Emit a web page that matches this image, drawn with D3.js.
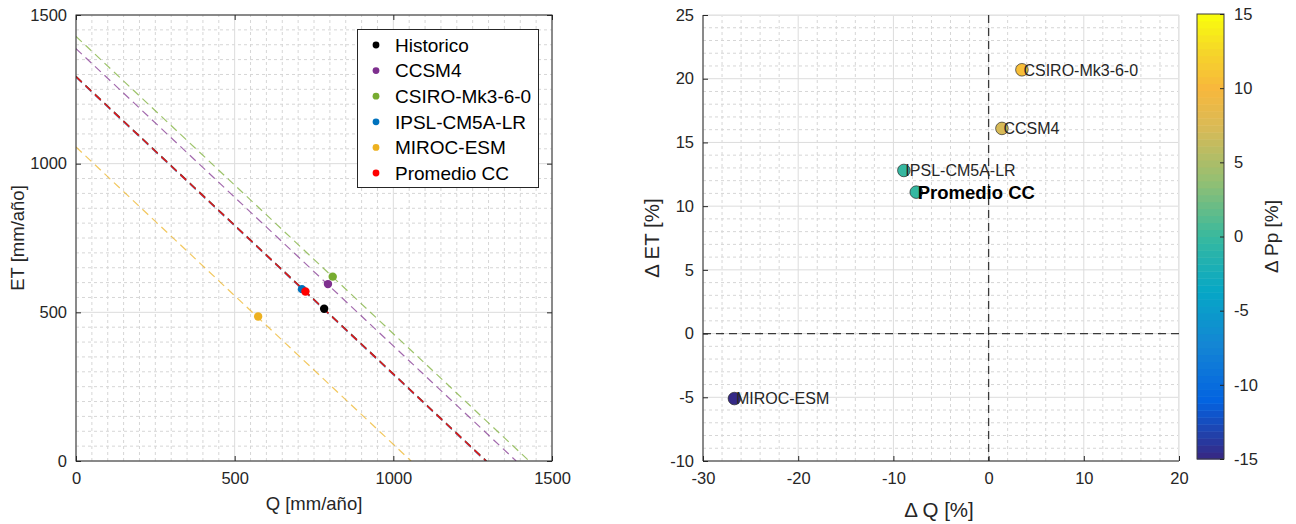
<!DOCTYPE html>
<html><head><meta charset="utf-8">
<script src="https://cdn.jsdelivr.net/npm/d3@7"></script>
<style>
html,body{margin:0;padding:0;background:#fff;}
svg{display:block;font-family:"Liberation Sans",Arial,Helvetica,sans-serif;}
</style></head>
<body>
<svg id="chart" width="1296" height="524"></svg>
<script>
// ---------- Data (left panel) ----------
const series = ["Historico","CCSM4","CSIRO-Mk3-6-0","IPSL-CM5A-LR","MIROC-ESM","Promedio CC"];
const seriesColors = ["#000000","#7e2f8e","#77ac30","#0072bd","#edb120","#ff0000"];
const qValues  = [782, 794, 809, 712, 574, 723];
const etValues = [512, 595, 620, 578, 486, 570];
const ppValues = [1294, 1387, 1428, 1290, 1056, 1292];
const leftTicks = [0, 500, 1000, 1500];

// ---------- Data (right panel) ----------
const deltaLabels = ["CCSM4","CSIRO-Mk3-6-0","IPSL-CM5A-LR","MIROC-ESM","Promedio CC"];
const deltaQ  = [1.4, 3.5, -8.9, -26.7, -7.6];
const deltaET = [16.1, 20.7, 12.8, -5.1, 11.1];
const deltaPp = [7.3, 10.4, -0.3, -18, 0.0];
const rightXTicks = [-30, -20, -10, 0, 10, 20];
const rightYTicks = [-10, -5, 0, 5, 10, 15, 20, 25];
const cbarTicks = [-15, -10, -5, 0, 5, 10, 15];

const svg = d3.select("#chart");
const txt = "#262626";
const fmt = d => String(d);

// parula-like colormap
const parulaStops = [
  [0.000,"#352a87"],[0.125,"#0363e1"],[0.250,"#1485d4"],[0.375,"#06a7c6"],
  [0.500,"#38b99e"],[0.625,"#92bf73"],[0.750,"#d9ba56"],[0.840,"#f8b83c"],
  [0.920,"#f5d52a"],[1.000,"#f9fb0e"]];
const parula = d3.scaleLinear().domain(parulaStops.map(d=>d[0])).range(parulaStops.map(d=>d[1])).interpolate(d3.interpolateRgb).clamp(true);
const cnorm = d3.scaleLinear().domain([-15,15]).range([0,1]).clamp(true);
const colorOf = v => parula(Math.floor(cnorm(v)*63.999)/63);

function grid(g, x, y, xMinor, yMinor, xMajor, yMajor) {
  const [x0,x1] = x.range(), [y0,y1] = y.range();
  g.append("g").selectAll("line").data(xMinor).join("line")
    .attr("x1",d=>x(d)).attr("x2",d=>x(d)).attr("y1",y0).attr("y2",y1)
    .attr("stroke","#d6d6d6").attr("stroke-width",1).attr("stroke-dasharray","3,3");
  g.append("g").selectAll("line").data(yMinor).join("line")
    .attr("x1",x0).attr("x2",x1).attr("y1",d=>y(d)).attr("y2",d=>y(d))
    .attr("stroke","#d6d6d6").attr("stroke-width",1).attr("stroke-dasharray","3,3");
  g.append("g").selectAll("line").data(xMajor).join("line")
    .attr("x1",d=>x(d)).attr("x2",d=>x(d)).attr("y1",y0).attr("y2",y1)
    .attr("stroke","#dcdcdc").attr("stroke-width",1);
  g.append("g").selectAll("line").data(yMajor).join("line")
    .attr("x1",x0).attr("x2",x1).attr("y1",d=>y(d)).attr("y2",d=>y(d))
    .attr("stroke","#dcdcdc").attr("stroke-width",1);
}
function axisStyle(sel){
  sel.selectAll("text").attr("fill",txt).style("font-size","16.5px");
  sel.select(".domain").remove();
  sel.selectAll(".tick line").attr("stroke",txt);
}

// ================= LEFT PANEL =================
const L = {x0:76, x1:552, y0:15, y1:461};
const xL = d3.scaleLinear().domain([0,1500]).range([L.x0,L.x1]);
const yL = d3.scaleLinear().domain([0,1500]).range([L.y1,L.y0]);
const gL = svg.append("g");
grid(gL, xL, yL, d3.range(0,1501,50).filter(d=>d%500), d3.range(0,1501,50).filter(d=>d%500), leftTicks, leftTicks);

svg.append("clipPath").attr("id","clipL").append("rect")
  .attr("x",L.x0).attr("y",L.y0).attr("width",L.x1-L.x0).attr("height",L.y1-L.y0);
const lines = gL.append("g").attr("clip-path","url(#clipL)");
series.forEach((s,i)=>{
  const last = i === series.length-1;
  lines.append("line")
    .attr("x1",xL(0)).attr("y1",yL(ppValues[i]))
    .attr("x2",xL(ppValues[i])).attr("y2",yL(0))
    .attr("stroke",last?"#e01818":seriesColors[i]).attr("stroke-width",last?1.5:1.2)
    .attr("stroke-opacity",last?1:0.72).attr("stroke-dasharray","8,5");
});
series.forEach((s,i)=>{
  gL.append("circle").attr("cx",xL(qValues[i])).attr("cy",yL(etValues[i]))
    .attr("r",4.2).attr("fill",seriesColors[i]);
});
// axes
gL.append("g").attr("transform",`translate(0,${L.y1})`)
  .call(d3.axisBottom(xL).tickValues(leftTicks).tickFormat(fmt).tickSize(-5).tickPadding(11)).call(axisStyle);
gL.append("g").attr("transform",`translate(${L.x0},0)`)
  .call(d3.axisLeft(yL).tickValues(leftTicks).tickFormat(fmt).tickSize(-5).tickPadding(9)).call(axisStyle);
gL.append("g").attr("transform",`translate(${L.x1},0)`)
  .call(d3.axisRight(yL).tickValues(leftTicks).tickSize(-5).tickFormat("")).call(axisStyle);
gL.append("g").attr("transform",`translate(0,${L.y0})`)
  .call(d3.axisTop(xL).tickValues(leftTicks).tickSize(-5).tickFormat("")).call(axisStyle);
gL.append("rect").attr("x",L.x0).attr("y",L.y0).attr("width",L.x1-L.x0).attr("height",L.y1-L.y0)
  .attr("fill","none").attr("stroke",txt).attr("stroke-width",1);
gL.append("text").attr("x",(L.x0+L.x1)/2).attr("y",510).attr("text-anchor","middle")
  .attr("fill",txt).style("font-size","18.5px").text("Q [mm/año]");
gL.append("text").attr("transform",`translate(24,${(L.y0+L.y1)/2}) rotate(-90)`).attr("text-anchor","middle")
  .attr("fill",txt).style("font-size","18.5px").text("ET [mm/año]");

// legend
const lg = gL.append("g");
lg.append("rect").attr("x",357.5).attr("y",29.5).attr("width",181).attr("height",158)
  .attr("fill","#fff").attr("stroke",txt).attr("stroke-width",1);
series.forEach((s,i)=>{
  const yy = 45 + i*25.6;
  lg.append("circle").attr("cx",376).attr("cy",yy).attr("r",3.4).attr("fill",seriesColors[i]);
  lg.append("text").attr("x",395).attr("y",yy).attr("dy","0.36em").attr("fill","#000")
    .style("font-size","19px").text(s);
});

// ================= RIGHT PANEL =================
const R = {x0:703, x1:1179, y0:15, y1:461};
const xR = d3.scaleLinear().domain([-30,20]).range([R.x0,R.x1]);
const yR = d3.scaleLinear().domain([-10,25]).range([R.y1,R.y0]);
const gR = svg.append("g");
grid(gR, xR, yR, d3.range(-30,20.1,2).filter(d=>d%10), d3.range(-10,25.1,1).filter(d=>d%5), rightXTicks, rightYTicks);
gR.append("line").attr("x1",R.x0).attr("x2",R.x1).attr("y1",R.y0+0.5).attr("y2",R.y0+0.5).attr("stroke","#e3e3e3");
gR.append("line").attr("x1",R.x1-0.5).attr("x2",R.x1-0.5).attr("y1",R.y0).attr("y2",R.y1).attr("stroke","#e3e3e3");
// zero lines
gR.append("line").attr("x1",xR(0)).attr("x2",xR(0)).attr("y1",R.y0).attr("y2",R.y1)
  .attr("stroke","#3a3a3a").attr("stroke-width",1.3).attr("stroke-dasharray","8,5");
gR.append("line").attr("x1",R.x0).attr("x2",R.x1).attr("y1",yR(0)).attr("y2",yR(0))
  .attr("stroke","#3a3a3a").attr("stroke-width",1.3).attr("stroke-dasharray","8,5");
// axes
gR.append("g").attr("transform",`translate(0,${R.y1})`)
  .call(d3.axisBottom(xR).tickValues(rightXTicks).tickFormat(fmt).tickSize(-5).tickPadding(11)).call(axisStyle);
gR.append("g").attr("transform",`translate(${R.x0},0)`)
  .call(d3.axisLeft(yR).tickValues(rightYTicks).tickFormat(fmt).tickSize(-5).tickPadding(9)).call(axisStyle);
gR.append("line").attr("x1",R.x0).attr("x2",R.x1).attr("y1",R.y1).attr("y2",R.y1).attr("stroke",txt);
gR.append("line").attr("x1",R.x0).attr("x2",R.x0).attr("y1",R.y0).attr("y2",R.y1).attr("stroke",txt);
gR.append("text").attr("x",(R.x0+R.x1)/2 - 2).attr("y",517).attr("text-anchor","middle")
  .attr("fill",txt).style("font-size","20.5px").text("Δ Q [%]");
gR.append("text").attr("transform",`translate(659,${(R.y0+R.y1)/2}) rotate(-90)`).attr("text-anchor","middle")
  .attr("fill",txt).style("font-size","20.5px").text("Δ ET [%]");
// points
deltaLabels.forEach((s,i)=>{
  const cx = xR(deltaQ[i]), cy = yR(deltaET[i]);
  gR.append("circle").attr("cx",cx).attr("cy",cy).attr("r",6.3)
    .attr("fill",colorOf(deltaPp[i])).attr("stroke","#2a2a2a").attr("stroke-width",0.7);
  const bold = s === "Promedio CC";
  gR.append("text").attr("x",cx+1.5).attr("y",cy).attr("dy","0.36em")
    .attr("fill",bold?"#000":txt).style("font-size",bold?"18.5px":"16px")
    .style("font-weight",bold?"bold":"normal").text(s);
});

// colorbar
const C = {x0:1197, x1:1224, y0:14, y1:459};
const yC = d3.scaleLinear().domain([-15,15]).range([C.y1,C.y0]);
const bands = d3.range(64);
const cb = svg.append("g");
cb.selectAll("rect.band").data(bands).join("rect").attr("class","band")
  .attr("x",C.x0).attr("width",C.x1-C.x0)
  .attr("y",d=>yC(-15+(d+1)*30/64)).attr("height",d=>yC(-15+d*30/64)-yC(-15+(d+1)*30/64)+0.5)
  .attr("fill",d=>parula(d/63));
cb.append("rect").attr("x",C.x0).attr("y",C.y0).attr("width",C.x1-C.x0).attr("height",C.y1-C.y0)
  .attr("fill","none").attr("stroke","#3a3a3a").attr("stroke-width",1);
cb.append("g").attr("transform",`translate(${C.x1},0)`)
  .call(d3.axisRight(yC).tickValues(cbarTicks).tickFormat(fmt).tickSize(-4).tickPadding(10)).call(axisStyle);
cb.append("text").attr("transform",`translate(1278,${(C.y0+C.y1)/2}) rotate(-90)`).attr("text-anchor","middle")
  .attr("fill",txt).style("font-size","19px").text("Δ Pp [%]");
</script>
</body></html>
